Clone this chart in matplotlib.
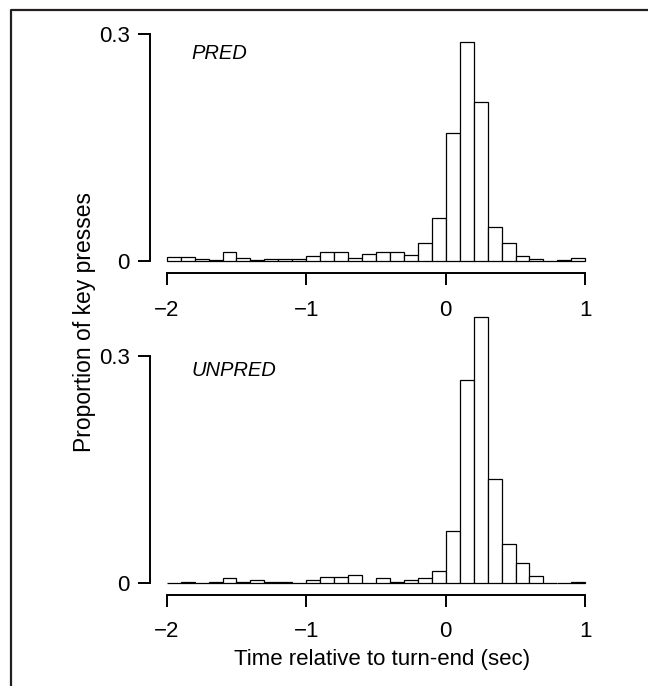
import numpy as np
import matplotlib
matplotlib.use("Agg")
import matplotlib.pyplot as plt
from matplotlib.lines import Line2D

plt.rcParams['font.family'] = ['Liberation Sans', 'DejaVu Sans']

# bins of 0.1 s from -2 to 1 s relative to turn end
bin_edges = np.linspace(-2.0, 1.0, 31)

pred = [0.005, 0.005, 0.002, 0.001, 0.011, 0.004, 0.001, 0.002, 0.002, 0.002,
        0.006, 0.011, 0.011, 0.004, 0.009, 0.011, 0.011, 0.007, 0.024, 0.057,
        0.169, 0.289, 0.210, 0.045, 0.024, 0.006, 0.002, 0.000, 0.001, 0.003]

unpred = [0.000, 0.001, 0.000, 0.001, 0.006, 0.001, 0.004, 0.001, 0.001, 0.000,
          0.004, 0.008, 0.008, 0.010, 0.000, 0.006, 0.001, 0.004, 0.006, 0.015,
          0.069, 0.268, 0.351, 0.137, 0.051, 0.026, 0.009, 0.000, 0.000, 0.001]

panel_names = ['PRED', 'UNPRED']
x_ticks = [-2, -1, 0, 1]
y_ticks = [0, 0.3]
y_ticklabels = ['0', '0.3']

W, H = 648, 686
fig = plt.figure(figsize=(W / 100, H / 100), dpi=100)

# pixels per unit on the y axis (same for both panels)
ppu = 755.7

# (axes top px, zero-line px, axis-line px, label baseline px)
panels = [(20, 260.7, 273.3, 59.3), (300, 582.7, 594.5, 376.0)]
left_px, right_px = 150, 602

for (top_px, zero_px, axis_px, lab_px), vals, name in zip(panels, [pred, unpred], panel_names):
    ax = fig.add_axes([left_px / W, 1 - axis_px / H,
                       (right_px - left_px) / W, (axis_px - top_px) / H])
    ax.patch.set_visible(False)
    ax.bar(bin_edges[:-1], vals, width=0.1, align='edge',
           facecolor='white', edgecolor='black', linewidth=0.9)
    ax.set_xlim(-2.12, 1.12)
    ax.set_ylim(-(axis_px - zero_px) / ppu, (zero_px - top_px) / ppu)

    for s in ['top', 'right']:
        ax.spines[s].set_visible(False)
    ax.spines['left'].set_bounds(0, 0.3)
    ax.spines['bottom'].set_bounds(-2, 1)
    for s in ['left', 'bottom']:
        ax.spines[s].set_linewidth(1.4)

    ax.set_xticks(x_ticks)
    ax.set_xticklabels([f'\u2212{abs(v)}' if v < 0 else str(v) for v in x_ticks])
    ax.set_yticks(y_ticks)
    ax.set_yticklabels(y_ticklabels)
    ax.tick_params(axis='both', direction='out', length=8.6, width=1.4,
                   labelsize=16)
    ax.tick_params(axis='x', pad=10.5)
    ax.tick_params(axis='y', pad=6)

    ax.text(-1.825, (zero_px - lab_px) / ppu, name, style='italic',
            fontsize=14.5, ha='left', va='baseline')

fig.text(84 / W, 1 - 322 / H, 'Proportion of key presses', rotation=90,
         ha='center', va='center', fontsize=16.5)
fig.text(382 / W, 1 - 660 / H, 'Time relative to turn-end (sec)',
         ha='center', va='center', fontsize=16)

# frame around the figure (left and top edges visible)
fig.add_artist(Line2D([11 / W, 11 / W, 1.0], [0, 1 - 10 / H, 1 - 10 / H],
                      transform=fig.transFigure, color='#231f20', linewidth=1.6))

fig.savefig('out.png', dpi=100)
